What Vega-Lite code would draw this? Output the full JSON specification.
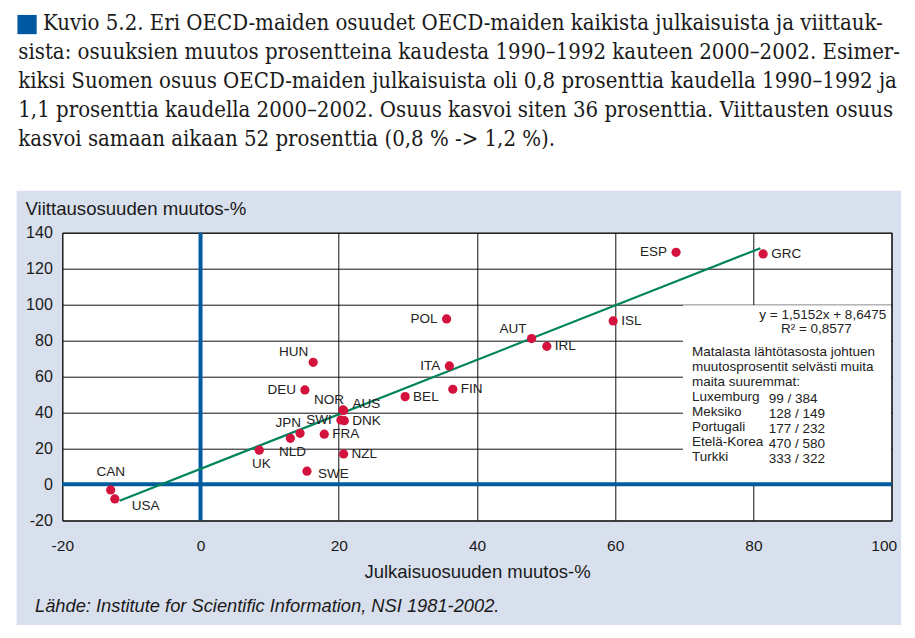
{
  "$schema": "https://vega.github.io/schema/vega-lite/v6.json",
  "width": 829.4,
  "height": 287.6,
  "autosize": {"type": "none"},
  "padding": {"left": 62.3, "top": 232.7, "right": 23.3, "bottom": 117.7},
  "background": "#d9e0ed",
  "view": {"fill": "white", "stroke": "#111111", "strokeWidth": 1},
  "datasets": {
    "countries": [
      {"maa": "POL", "julk": 35.6, "viit": 92.0},
      {"maa": "HUN", "julk": 16.3, "viit": 67.9},
      {"maa": "ITA", "julk": 36.0, "viit": 65.9},
      {"maa": "DEU", "julk": 15.1, "viit": 52.5},
      {"maa": "BEL", "julk": 29.6, "viit": 48.8},
      {"maa": "FIN", "julk": 36.5, "viit": 52.9},
      {"maa": "NOR", "julk": 20.6, "viit": 41.4},
      {"maa": "AUS", "julk": 20.7, "viit": 41.1},
      {"maa": "SWI", "julk": 20.3, "viit": 35.8},
      {"maa": "DNK", "julk": 20.8, "viit": 35.4},
      {"maa": "JPN", "julk": 14.4, "viit": 28.4},
      {"maa": "NLD", "julk": 13.0, "viit": 25.6},
      {"maa": "FRA", "julk": 17.9, "viit": 27.9},
      {"maa": "UK", "julk": 8.5, "viit": 19.0},
      {"maa": "NZL", "julk": 20.7, "viit": 16.9},
      {"maa": "SWE", "julk": 15.4, "viit": 7.3},
      {"maa": "CAN", "julk": -13.0, "viit": -3.1},
      {"maa": "USA", "julk": -12.4, "viit": -8.1},
      {"maa": "ESP", "julk": 68.8, "viit": 129.1},
      {"maa": "GRC", "julk": 81.4, "viit": 128.2},
      {"maa": "ISL", "julk": 59.7, "viit": 90.9},
      {"maa": "AUT", "julk": 47.9, "viit": 81.1},
      {"maa": "IRL", "julk": 50.1, "viit": 76.8}
    ],
    "trend": [
      {"julk": -11.7, "viit": -9.1},
      {"julk": 81.0, "viit": 131.4}
    ]
  },
  "data": {"name": "countries"},
  "layer": [
    {
      "data": {"values": [{}]},
      "mark": {"type": "rect", "fill": "white"},
      "encoding": {
        "x": {
          "datum": -40, "type": "quantitative",
          "scale": {"domain": [-20, 100], "nice": false, "zero": false},
          "axis": {
            "values": [-20, 0, 20, 40, 60, 80, 100], "tickCount": 7,
            "grid": true, "gridColor": "#111111", "gridWidth": 1, "gridOpacity": 1,
            "ticks": false, "domain": false, "labelFlush": false, "labelOverlap": false,
            "labelExpr": "'' + datum.value",
            "labelAlign": {"condition": {"test": "datum.value == 100", "value": "right"}, "value": "center"},
            "labelOffset": {"condition": {"test": "datum.value == 100", "value": 5}, "value": 0},
            "labelFont": "Liberation Sans", "labelFontSize": 15.5, "labelColor": "#1a1a1a", "labelPadding": 18,
            "title": "Julkaisuosuuden muutos-%",
            "titleFont": "Liberation Sans", "titleFontSize": 18.5, "titleFontWeight": "normal",
            "titleColor": "#1a1a1a", "titleY": 51.4, "titleBaseline": "middle"
          }
        },
        "x2": {"datum": 115},
        "y": {
          "datum": 163.3, "type": "quantitative",
          "scale": {"domain": [-20, 140], "nice": false, "zero": false},
          "axis": {
            "values": [-20, 0, 20, 40, 60, 80, 100, 120, 140], "tickCount": 9,
            "grid": true, "gridColor": "#111111", "gridWidth": 1, "gridOpacity": 1,
            "ticks": false, "domain": false, "labelFlush": false, "labelOverlap": false,
            "labelExpr": "'' + datum.value",
            "labelFont": "Liberation Sans", "labelFontSize": 16, "labelColor": "#1a1a1a", "labelPadding": 10,
            "title": "Viittausosuuden muutos-%",
            "titleFont": "Liberation Sans", "titleFontSize": 18.6, "titleFontWeight": "normal",
            "titleColor": "#1a1a1a", "titleAngle": 0, "titleAlign": "left", "titleBaseline": "middle",
            "titleX": -37.3, "titleY": -24.4
          }
        },
        "y2": {"datum": 300}
      }
    },
    {
      "data": {"values": [{}]},
      "mark": {"type": "rect", "fill": "white"},
      "encoding": {
        "x": {"datum": -40, "type": "quantitative", "scale": {"domain": [-20, 100], "nice": false, "zero": false}},
        "x2": {"datum": -26.6},
        "y": {"datum": -100, "type": "quantitative", "scale": {"domain": [-20, 140], "nice": false, "zero": false}},
        "y2": {"datum": 300}
      }
    },
    {
      "data": {"values": [{}]},
      "mark": {"type": "rect", "fill": "white"},
      "encoding": {
        "x": {"datum": 101.37, "type": "quantitative", "scale": {"domain": [-20, 100], "nice": false, "zero": false}},
        "x2": {"datum": 115},
        "y": {"datum": -100, "type": "quantitative", "scale": {"domain": [-20, 140], "nice": false, "zero": false}},
        "y2": {"datum": 300}
      }
    },
    {
      "data": {"values": [{}]},
      "mark": {"type": "rect", "fill": "white"},
      "encoding": {
        "x": {"datum": -40, "type": "quantitative", "scale": {"domain": [-20, 100], "nice": false, "zero": false}},
        "x2": {"datum": 115},
        "y": {"datum": -100, "type": "quantitative", "scale": {"domain": [-20, 140], "nice": false, "zero": false}},
        "y2": {"datum": -78.2}
      }
    },
    {
      "data": {"values": [{}]},
      "mark": {"type": "rect", "fill": "white"},
      "encoding": {
        "x": {"datum": 69.8, "type": "quantitative", "scale": {"domain": [-20, 100], "nice": false, "zero": false}},
        "x2": {"datum": 99.9},
        "y": {"datum": 0.8, "type": "quantitative", "scale": {"domain": [-20, 140], "nice": false, "zero": false}},
        "y2": {"datum": 99.6}
      }
    },
    {
      "data": {"values": [{}]},
      "mark": {"type": "rule", "color": "#005c9f", "strokeWidth": 4},
      "encoding": {
        "x": {"datum": 0, "type": "quantitative", "scale": {"domain": [-20, 100], "nice": false, "zero": false}}
      }
    },
    {
      "data": {"values": [{}]},
      "mark": {"type": "rule", "color": "#005c9f", "strokeWidth": 4},
      "encoding": {
        "y": {"datum": 0, "type": "quantitative", "scale": {"domain": [-20, 140], "nice": false, "zero": false}}
      }
    },
    {
      "data": {"name": "trend"},
      "mark": {"type": "line", "color": "#00845d", "strokeWidth": 2.2},
      "encoding": {
        "x": {"field": "julk", "type": "quantitative", "scale": {"domain": [-20, 100], "nice": false, "zero": false}},
        "y": {"field": "viit", "type": "quantitative", "scale": {"domain": [-20, 140], "nice": false, "zero": false}}
      }
    },
    {
      "mark": {"type": "circle", "color": "#d4123e", "opacity": 1, "size": 85},
      "encoding": {
        "x": {"field": "julk", "type": "quantitative", "scale": {"domain": [-20, 100], "nice": false, "zero": false}},
        "y": {"field": "viit", "type": "quantitative", "scale": {"domain": [-20, 140], "nice": false, "zero": false}}
      }
    },
    {
      "transform": [{"filter": {"field": "maa", "oneOf": ["ESP", "POL", "ITA", "DEU", "SWI"]}}],
      "mark": {"type": "text", "align": "right", "baseline": "middle", "dx": -9, "font": "Liberation Sans", "fontSize": 13.5, "fill": "#222222"},
      "encoding": {
        "x": {"field": "julk", "type": "quantitative", "scale": {"domain": [-20, 100], "nice": false, "zero": false}},
        "y": {"field": "viit", "type": "quantitative", "scale": {"domain": [-20, 140], "nice": false, "zero": false}},
        "text": {"field": "maa"}
      }
    },
    {
      "transform": [{"filter": {"field": "maa", "oneOf": ["GRC", "ISL", "IRL", "BEL", "FIN", "NZL", "FRA", "DNK"]}}],
      "mark": {"type": "text", "align": "left", "baseline": "middle", "dx": 8, "font": "Liberation Sans", "fontSize": 13.5, "fill": "#222222"},
      "encoding": {
        "x": {"field": "julk", "type": "quantitative", "scale": {"domain": [-20, 100], "nice": false, "zero": false}},
        "y": {"field": "viit", "type": "quantitative", "scale": {"domain": [-20, 140], "nice": false, "zero": false}},
        "text": {"field": "maa"}
      }
    },
    {
      "transform": [{"filter": {"field": "maa", "oneOf": ["HUN", "AUT"]}}],
      "mark": {"type": "text", "align": "right", "baseline": "middle", "dx": -5, "dy": -10, "font": "Liberation Sans", "fontSize": 13.5, "fill": "#222222"},
      "encoding": {
        "x": {"field": "julk", "type": "quantitative", "scale": {"domain": [-20, 100], "nice": false, "zero": false}},
        "y": {"field": "viit", "type": "quantitative", "scale": {"domain": [-20, 140], "nice": false, "zero": false}},
        "text": {"field": "maa"}
      }
    },
    {
      "transform": [{"filter": {"field": "maa", "oneOf": ["NOR", "JPN"]}}],
      "mark": {"type": "text", "align": "right", "baseline": "middle", "dx": 1, "dy": -10, "font": "Liberation Sans", "fontSize": 13.5, "fill": "#222222"},
      "encoding": {
        "x": {"field": "julk", "type": "quantitative", "scale": {"domain": [-20, 100], "nice": false, "zero": false}},
        "y": {"field": "viit", "type": "quantitative", "scale": {"domain": [-20, 140], "nice": false, "zero": false}},
        "text": {"field": "maa"}
      }
    },
    {
      "transform": [{"filter": {"field": "maa", "oneOf": ["AUS"]}}],
      "mark": {"type": "text", "align": "left", "baseline": "middle", "dx": 9, "dy": -6, "font": "Liberation Sans", "fontSize": 13.5, "fill": "#222222"},
      "encoding": {
        "x": {"field": "julk", "type": "quantitative", "scale": {"domain": [-20, 100], "nice": false, "zero": false}},
        "y": {"field": "viit", "type": "quantitative", "scale": {"domain": [-20, 140], "nice": false, "zero": false}},
        "text": {"field": "maa"}
      }
    },
    {
      "transform": [{"filter": {"field": "maa", "oneOf": ["NLD", "UK"]}}],
      "mark": {"type": "text", "align": "center", "baseline": "middle", "dx": 2, "dy": 14, "font": "Liberation Sans", "fontSize": 13.5, "fill": "#222222"},
      "encoding": {
        "x": {"field": "julk", "type": "quantitative", "scale": {"domain": [-20, 100], "nice": false, "zero": false}},
        "y": {"field": "viit", "type": "quantitative", "scale": {"domain": [-20, 140], "nice": false, "zero": false}},
        "text": {"field": "maa"}
      }
    },
    {
      "transform": [{"filter": {"field": "maa", "oneOf": ["CAN"]}}],
      "mark": {"type": "text", "align": "center", "baseline": "middle", "dy": -18, "font": "Liberation Sans", "fontSize": 13.5, "fill": "#222222"},
      "encoding": {
        "x": {"field": "julk", "type": "quantitative", "scale": {"domain": [-20, 100], "nice": false, "zero": false}},
        "y": {"field": "viit", "type": "quantitative", "scale": {"domain": [-20, 140], "nice": false, "zero": false}},
        "text": {"field": "maa"}
      }
    },
    {
      "transform": [{"filter": {"field": "maa", "oneOf": ["SWE"]}}],
      "mark": {"type": "text", "align": "left", "baseline": "middle", "dx": 11, "dy": 3, "font": "Liberation Sans", "fontSize": 13.5, "fill": "#222222"},
      "encoding": {
        "x": {"field": "julk", "type": "quantitative", "scale": {"domain": [-20, 100], "nice": false, "zero": false}},
        "y": {"field": "viit", "type": "quantitative", "scale": {"domain": [-20, 140], "nice": false, "zero": false}},
        "text": {"field": "maa"}
      }
    },
    {
      "transform": [{"filter": {"field": "maa", "oneOf": ["USA"]}}],
      "mark": {"type": "text", "align": "left", "baseline": "middle", "dx": 17, "dy": 7, "font": "Liberation Sans", "fontSize": 13.5, "fill": "#222222"},
      "encoding": {
        "x": {"field": "julk", "type": "quantitative", "scale": {"domain": [-20, 100], "nice": false, "zero": false}},
        "y": {"field": "viit", "type": "quantitative", "scale": {"domain": [-20, 140], "nice": false, "zero": false}},
        "text": {"field": "maa"}
      }
    },
    {
      "data": {"values": [{"teksti": "y = 1,5152x + 8,6475"}]},
      "mark": {"type": "text", "align": "right", "baseline": "middle", "font": "Liberation Sans", "fontSize": 13.5, "fill": "#222222"},
      "encoding": {
        "x": {"datum": 99.2, "type": "quantitative", "scale": {"domain": [-20, 100], "nice": false, "zero": false}},
        "y": {"datum": 94.2, "type": "quantitative", "scale": {"domain": [-20, 140], "nice": false, "zero": false}},
        "text": {"field": "teksti"}
      }
    },
    {
      "data": {"values": [{"teksti": "R² = 0,8577"}]},
      "mark": {"type": "text", "align": "center", "baseline": "middle", "font": "Liberation Sans", "fontSize": 13.5, "fill": "#222222"},
      "encoding": {
        "x": {"datum": 89.1, "type": "quantitative", "scale": {"domain": [-20, 100], "nice": false, "zero": false}},
        "y": {"datum": 86.3, "type": "quantitative", "scale": {"domain": [-20, 140], "nice": false, "zero": false}},
        "text": {"field": "teksti"}
      }
    },
    {
      "data": {"values": [{"teksti": ["Matalasta lähtötasosta johtuen", "muutosprosentit selvästi muita", "maita suuremmat:", "Luxemburg", "Meksiko", "Portugali", "Etelä-Korea", "Turkki"]}]},
      "mark": {"type": "text", "align": "left", "baseline": "middle", "lineHeight": 15.1, "font": "Liberation Sans", "fontSize": 13.5, "fill": "#222222"},
      "encoding": {
        "x": {"datum": 71.1, "type": "quantitative", "scale": {"domain": [-20, 100], "nice": false, "zero": false}},
        "y": {"datum": 73.8, "type": "quantitative", "scale": {"domain": [-20, 140], "nice": false, "zero": false}},
        "text": {"field": "teksti"}
      }
    },
    {
      "data": {"values": [{"teksti": ["99 / 384", "128 / 149", "177 / 232", "470 / 580", "333 / 322"]}]},
      "mark": {"type": "text", "align": "left", "baseline": "middle", "lineHeight": 15.1, "font": "Liberation Sans", "fontSize": 13.5, "fill": "#222222"},
      "encoding": {
        "x": {"datum": 82.2, "type": "quantitative", "scale": {"domain": [-20, 100], "nice": false, "zero": false}},
        "y": {"datum": 47.6, "type": "quantitative", "scale": {"domain": [-20, 140], "nice": false, "zero": false}},
        "text": {"field": "teksti"}
      }
    },
    {
      "data": {"values": [{}]},
      "mark": {"type": "square", "color": "#0059a0", "opacity": 1, "size": 370},
      "encoding": {
        "x": {"datum": -25.1, "type": "quantitative", "scale": {"domain": [-20, 100], "nice": false, "zero": false}},
        "y": {"datum": 255.8, "type": "quantitative", "scale": {"domain": [-20, 140], "nice": false, "zero": false}}
      }
    },
    {
      "data": {"values": [{"teksti": "Kuvio 5.2. Eri OECD-maiden osuudet OECD-maiden kaikista julkaisuista ja viittauk-"}]},
      "mark": {"type": "text", "align": "left", "baseline": "alphabetic", "font": "DejaVu Serif Condensed, DejaVu Serif", "fontSize": 22, "fill": "#1a1a1a"},
      "encoding": {
        "x": {"datum": -22.79, "type": "quantitative", "scale": {"domain": [-20, 100], "nice": false, "zero": false}},
        "y": {"datum": 252.8, "type": "quantitative", "scale": {"domain": [-20, 140], "nice": false, "zero": false}},
        "text": {"field": "teksti"}
      }
    },
    {
      "data": {"values": [{"teksti": ["sista: osuuksien muutos prosentteina kaudesta 1990–1992 kauteen 2000–2002. Esimer-", "kiksi Suomen osuus OECD-maiden julkaisuista oli 0,8 prosenttia kaudella 1990–1992 ja", "1,1 prosenttia kaudella 2000–2002. Osuus kasvoi siten 36 prosenttia. Viittausten osuus", "kasvoi samaan aikaan 52 prosenttia (0,8 % -> 1,2 %)."]}]},
      "mark": {"type": "text", "align": "left", "baseline": "alphabetic", "lineHeight": 29, "font": "DejaVu Serif Condensed, DejaVu Serif", "fontSize": 22, "fill": "#1a1a1a"},
      "encoding": {
        "x": {"datum": -26.37, "type": "quantitative", "scale": {"domain": [-20, 100], "nice": false, "zero": false}},
        "y": {"datum": 236.6, "type": "quantitative", "scale": {"domain": [-20, 140], "nice": false, "zero": false}},
        "text": {"field": "teksti"}
      }
    },
    {
      "data": {"values": [{"teksti": "Lähde: Institute for Scientific Information, NSI 1981-2002."}]},
      "mark": {"type": "text", "align": "left", "baseline": "middle", "font": "Liberation Sans", "fontStyle": "italic", "fontSize": 18.3, "fill": "#1a1a1a"},
      "encoding": {
        "x": {"datum": -23.95, "type": "quantitative", "scale": {"domain": [-20, 100], "nice": false, "zero": false}},
        "y": {"datum": -68.1, "type": "quantitative", "scale": {"domain": [-20, 140], "nice": false, "zero": false}},
        "text": {"field": "teksti"}
      }
    }
  ]
}
